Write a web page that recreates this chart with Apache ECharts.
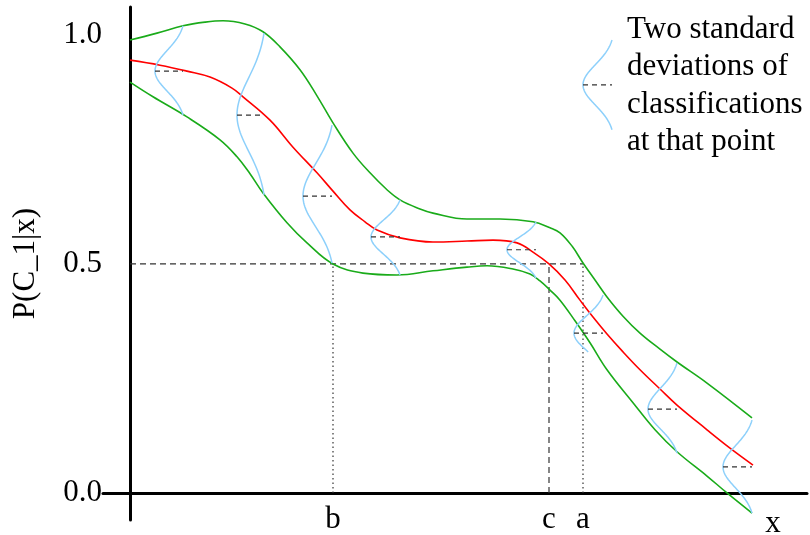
<!DOCTYPE html>
<html>
<head>
<meta charset="utf-8">
<title>P(C_1|x)</title>
<script src="https://cdn.jsdelivr.net/npm/echarts@6/dist/echarts.min.js"></script>
<style>
  html, body { margin: 0; padding: 0; background: #fff; }
  #chart { width: 810px; height: 535px; }
</style>
</head>
<body>
<div id="chart"></div>
<script>
// Mean classification probability along x, and the two-standard-deviation band.
const meanX  = [0, 30, 57, 80, 102, 113, 140, 163, 187, 203, 220, 235, 247, 270, 303, 337, 363, 387, 403, 419, 435, 450, 463, 477, 493, 510, 530, 547, 577, 600, 623];
const meanP  = [0.945, 0.934, 0.921, 0.908, 0.884, 0.865, 0.814, 0.755, 0.699, 0.659, 0.618, 0.592, 0.574, 0.557, 0.548, 0.550, 0.552, 0.546, 0.526, 0.500, 0.465, 0.421, 0.384, 0.347, 0.308, 0.269, 0.227, 0.192, 0.138, 0.098, 0.061];

const upperX = [0, 27, 53, 75, 93, 115, 133, 150, 170, 187, 203, 223, 240, 257, 270, 290, 303, 337, 370, 403, 420, 430, 442, 453, 465, 477, 493, 510, 530, 547, 577, 622];
const upperP = [0.989, 1.004, 1.020, 1.028, 1.031, 1.024, 1.007, 0.974, 0.924, 0.867, 0.808, 0.742, 0.699, 0.662, 0.640, 0.620, 0.611, 0.598, 0.598, 0.592, 0.579, 0.568, 0.539, 0.502, 0.465, 0.428, 0.386, 0.349, 0.314, 0.286, 0.240, 0.164];

const lowerX = [0, 23, 57, 90, 107, 120, 133, 157, 177, 203, 233, 267, 303, 337, 357, 383, 400, 410, 420, 430, 445, 460, 477, 503, 525, 547, 577, 597, 622];
const lowerP = [0.897, 0.865, 0.821, 0.771, 0.734, 0.697, 0.655, 0.590, 0.546, 0.500, 0.480, 0.476, 0.485, 0.493, 0.496, 0.489, 0.478, 0.463, 0.443, 0.421, 0.376, 0.328, 0.269, 0.197, 0.138, 0.090, 0.037, 0.000, -0.044];

// Spread of classifications at sample points: base x, top, mean, bottom, depth of bell, drawn lower end.
const spreadX      = [53, 134, 202, 270, 406, 473, 547, 622];
const spreadTop    = [1.020, 1.004, 0.803, 0.640, 0.592, 0.432, 0.284, 0.159];
const spreadMean   = [0.921, 0.825, 0.648, 0.559, 0.531, 0.349, 0.183, 0.057];
const spreadBottom = [0.825, 0.651, 0.502, 0.476, 0.469, 0.266, 0.087, -0.044];
const spreadPeakX  = [25, 107, 173, 241, 377, 444, 518, 593];
const spreadEnd    = [0.825, 0.651, 0.502, 0.476, 0.469, 0.308, 0.087, -0.044];

// Key glyph beside the explanatory note.
const keyGlyph = [482, 0.989, 0.891, 0.793, 453, 0.793];
const keyText = 'Two standard\ndeviations of\nclassifications\nat that point';

// Decision threshold and where each curve crosses it.
const threshold = 0.5;
const crossNames = ['b', 'c', 'a'];
const crossX = [203, 419, 453];

const yTicks = [0, 0.5, 1.0];

const SERIF = '"Liberation Serif", "DejaVu Serif", serif';
const GREEN = '#1aab1a';
const RED = '#ff0000';
const BLUE = '#8dd0fb';
const DASH = '#333333';

const zip = (xs, ys) => xs.map((x, i) => [x, ys[i]]);

function bellItem(params, api) {
  const x0 = api.value(0), top = api.value(1), mu = api.value(2),
        bot = api.value(3), peak = api.value(4), end = api.value(5);
  const K = 2.2;
  const sUp = (top - mu) / K, sDn = (mu - bot) / K;
  const gEnd = Math.exp(-K * K / 2);
  const pts = [];
  const n = 80;
  for (let i = 0; i <= n; i++) {
    const y = top - (top - end) * i / n;
    const s = y >= mu ? sUp : sDn;
    const g = Math.exp(-Math.pow(y - mu, 2) / (2 * s * s));
    const w = Math.max(0, (g - gEnd) / (1 - gEnd));
    pts.push(api.coord([x0 - (x0 - peak) * w, y]));
  }
  const a = api.coord([peak, mu]);
  const b = api.coord([x0, mu]);
  return {
    type: 'group',
    children: [
      { type: 'polyline', shape: { points: pts },
        style: { stroke: BLUE, lineWidth: 1.5, fill: null } },
      { type: 'line', shape: { x1: a[0], y1: a[1], x2: b[0], y2: b[1] },
        style: { stroke: DASH, lineWidth: 1.2, lineDash: [5, 4] } }
    ]
  };
}

const spreadData = spreadX.map((x, i) => [x, spreadTop[i], spreadMean[i], spreadBottom[i], spreadPeakX[i], spreadEnd[i]]);

const refStyle = (dash) => ({ color: DASH, width: 1.2, type: dash });

const chart = echarts.init(document.getElementById('chart'), null, { renderer: 'canvas' });
chart.setOption({
  animation: false,
  backgroundColor: '#ffffff',
  grid: { left: 103, right: 3, top: 7, bottom: 15, containLabel: false, outerBoundsMode: 'none' },
  xAxis: {
    type: 'value', min: -27, max: 677,
    axisLine: { show: true, onZero: true, lineStyle: { color: '#000', width: 3 } },
    axisTick: { show: false },
    splitLine: { show: false },
    axisLabel: {
      customValues: crossX,
      formatter: (v) => crossNames[crossX.indexOf(v)] || '',
      margin: -16, fontSize: 31, fontFamily: SERIF, color: '#000'
    }
  },
  yAxis: {
    type: 'value', min: -0.059, max: 1.061,
    name: 'P(C_1|x)', nameLocation: 'middle', nameGap: 62,
    nameTextStyle: { fontSize: 31, fontFamily: SERIF, color: '#000' },
    axisLine: { show: true, onZero: true, lineStyle: { color: '#000', width: 3 } },
    axisTick: { show: false },
    splitLine: { show: false },
    axisLabel: {
      customValues: yTicks,
      formatter: (v) => v.toFixed(1),
      margin: 1, fontSize: 31, fontFamily: SERIF, color: '#000'
    }
  },
  graphic: [
    { type: 'text', x: 773, y: 524,
      style: { text: 'x', font: '31px ' + SERIF, fill: '#000', align: 'center', verticalAlign: 'middle' } },
    { type: 'text', x: 627, y: 11,
      style: { text: keyText, font: '31px ' + SERIF, lineHeight: 37.5, fill: '#000', align: 'left', verticalAlign: 'top' } }
  ],
  series: [
    { name: 'threshold', type: 'line', silent: true, symbol: 'none',
      data: [[0, threshold], [crossX[2], threshold]], lineStyle: refStyle([6, 4]) },
    { name: 'b', type: 'line', silent: true, symbol: 'none',
      data: [[crossX[0], 0], [crossX[0], threshold]], lineStyle: refStyle([1.5, 3]) },
    { name: 'c', type: 'line', silent: true, symbol: 'none',
      data: [[crossX[1], 0], [crossX[1], threshold]], lineStyle: refStyle([6, 4]) },
    { name: 'a', type: 'line', silent: true, symbol: 'none',
      data: [[crossX[2], 0], [crossX[2], threshold]], lineStyle: refStyle([1.5, 3]) },
    { name: 'upper', type: 'line', symbol: 'none', smooth: 0.4,
      data: zip(upperX, upperP), lineStyle: { color: GREEN, width: 1.6 } },
    { name: 'lower', type: 'line', symbol: 'none', smooth: 0.4,
      data: zip(lowerX, lowerP), lineStyle: { color: GREEN, width: 1.6 } },
    { name: 'mean', type: 'line', symbol: 'none', smooth: 0.4,
      data: zip(meanX, meanP), lineStyle: { color: RED, width: 1.6 } },
    { name: 'spread', type: 'custom', renderItem: bellItem, data: spreadData, z: 5 },
    { name: 'key', type: 'custom', renderItem: bellItem, data: [keyGlyph], z: 5 }
  ]
});
</script>
</body>
</html>
